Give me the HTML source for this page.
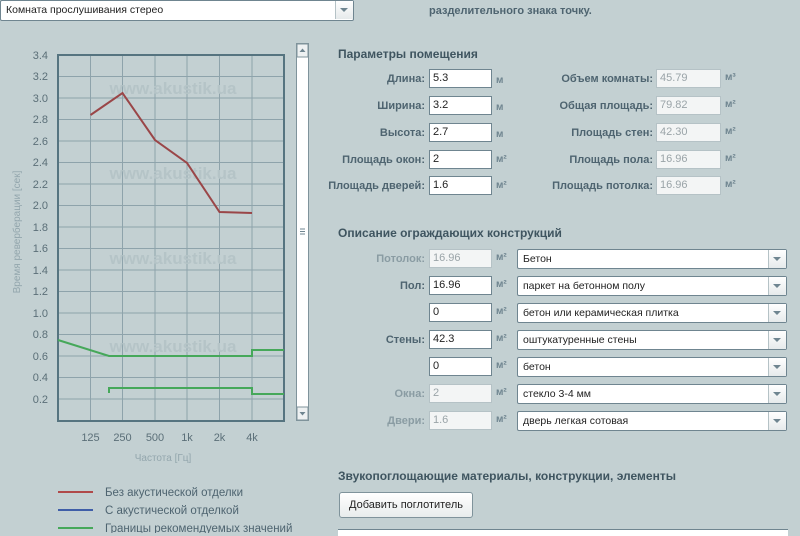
<!DOCTYPE html>
<html><head><meta charset="utf-8"><style>
body{margin:0;width:800px;height:533px;background:#c3d0d2;font-family:"Liberation Sans","DejaVu Sans",sans-serif;position:relative;overflow:hidden}
.a{position:absolute}
.lbl{position:absolute;font-size:11px;font-weight:bold;color:#4e6470;text-align:right}
.inp{position:absolute;height:19px;background:#fff;border:1px solid #6f8590;box-sizing:border-box;font-size:11px;line-height:17px;padding-left:3px;color:#222}
.dis{background:#f3f5f5;border-color:#b5c2c6;color:#9aa4a8}
.u{position:absolute;font-size:10px;font-weight:bold;color:#6f8590}
.sel{position:absolute;height:20px;background:#fff;border:1px solid #6f8590;border-radius:2px;box-sizing:border-box;font-size:10.5px;line-height:18px;padding-left:5px;color:#222}
.sel:after{content:"";position:absolute;right:0;top:0;width:17px;height:18px;border-left:1px solid #b5c2c6;background:linear-gradient(#fff,#e6eaeb)}
.sel i{position:absolute;right:5px;top:7px;border-left:4px solid transparent;border-right:4px solid transparent;border-top:4px solid #6f8590;z-index:2}
h3{position:absolute;margin:0;font-size:12px;color:#3f5560;font-weight:bold}
</style></head><body>
<div class="sel" style="left:0;top:0;width:354px;height:21px;line-height:19px">Комната прослушивания стерео<i></i></div>
<div class="a" style="left:429px;top:5px;font-size:11px;font-weight:bold;color:#4e6470">разделительного знака точку.</div>

<svg class="a" style="left:0;top:0" width="320" height="533" font-family="Liberation Sans, DejaVu Sans, sans-serif">
<g stroke="#8ea3ab" stroke-width="1">
<line x1="58" x2="284" y1="76.5" y2="76.5"/><line x1="58" x2="284" y1="98" y2="98"/><line x1="58" x2="284" y1="119.5" y2="119.5"/><line x1="58" x2="284" y1="141" y2="141"/><line x1="58" x2="284" y1="162.5" y2="162.5"/><line x1="58" x2="284" y1="184" y2="184"/><line x1="58" x2="284" y1="205.5" y2="205.5"/><line x1="58" x2="284" y1="227" y2="227"/><line x1="58" x2="284" y1="248.5" y2="248.5"/><line x1="58" x2="284" y1="270" y2="270"/><line x1="58" x2="284" y1="291.5" y2="291.5"/><line x1="58" x2="284" y1="313" y2="313"/><line x1="58" x2="284" y1="334.5" y2="334.5"/><line x1="58" x2="284" y1="356" y2="356"/><line x1="58" x2="284" y1="377.5" y2="377.5"/><line x1="58" x2="284" y1="399" y2="399"/>
<line x1="90.5" x2="90.5" y1="55" y2="421"/><line x1="122.5" x2="122.5" y1="55" y2="421"/><line x1="155" x2="155" y1="55" y2="421"/><line x1="187" x2="187" y1="55" y2="421"/><line x1="219.5" x2="219.5" y1="55" y2="421"/><line x1="252" x2="252" y1="55" y2="421"/>
</g>
<rect x="58" y="55" width="226" height="366" fill="none" stroke="#567480" stroke-width="2"/>
<g fill="#b5c4c7" font-size="17" font-weight="bold" text-anchor="middle"><text x="173" y="94">www.akustik.ua</text><text x="173" y="179">www.akustik.ua</text><text x="173" y="264">www.akustik.ua</text><text x="173" y="352">www.akustik.ua</text></g>
<g fill="#5b6f78" font-size="11" text-anchor="end">
<text x="48" y="59">3.4</text><text x="48" y="80">3.2</text><text x="48" y="102">3.0</text><text x="48" y="123">2.8</text><text x="48" y="145">2.6</text><text x="48" y="166">2.4</text><text x="48" y="188">2.2</text><text x="48" y="209">2.0</text><text x="48" y="231">1.8</text><text x="48" y="252">1.6</text><text x="48" y="274">1.4</text><text x="48" y="295">1.2</text><text x="48" y="317">1.0</text><text x="48" y="338">0.8</text><text x="48" y="360">0.6</text><text x="48" y="381">0.4</text><text x="48" y="403">0.2</text></g>
<g fill="#5b6f78" font-size="11" text-anchor="middle"><text x="90.5" y="441">125</text><text x="122.5" y="441">250</text><text x="155" y="441">500</text><text x="187" y="441">1k</text><text x="219.5" y="441">2k</text><text x="252" y="441">4k</text></g>
<text x="163" y="461" fill="#93a6ad" font-size="10" text-anchor="middle">Частота [Гц]</text>
<text transform="translate(20,232) rotate(-90)" fill="#93a6ad" font-size="10" text-anchor="middle">Время реверберации [сек]</text>
<polyline fill="none" stroke="#9a4648" stroke-width="2" points="90.5,115 122.5,93 155,140 187,163 219.5,212 252,213"/>
<polyline fill="none" stroke="#46a85a" stroke-width="2" points="58,340 109,356 252,356 252,350 284,350"/>
<polyline fill="none" stroke="#46a85a" stroke-width="2" points="109,393 109,388 252,388 252,394 284,394"/>
<rect x="296.5" y="43.5" width="12" height="377" fill="#fff" stroke="#7f939b"/>
<rect x="297" y="44" width="11" height="13" fill="#eef1f2" stroke="#7f939b"/>
<path d="M299.5 52 L302.5 48.5 L305.5 52Z" fill="#6f8590"/>
<rect x="297" y="407" width="11" height="13" fill="#eef1f2" stroke="#7f939b"/>
<path d="M299.5 412 L302.5 415.5 L305.5 412Z" fill="#6f8590"/>
<path d="M300 229h5M300 231.5h5M300 234h5" stroke="#6f8590"/>
<line x1="58" x2="93" y1="492" y2="492" stroke="#b04a4a" stroke-width="2"/>
<line x1="58" x2="93" y1="510" y2="510" stroke="#3f5ea8" stroke-width="2"/>
<line x1="58" x2="93" y1="528" y2="528" stroke="#46a85a" stroke-width="2"/>
<g fill="#4e6470" font-size="11.5"><text x="105" y="496">Без акустической отделки</text><text x="105" y="514">С акустической отделкой</text><text x="105" y="532">Границы рекомендуемых значений</text></g>
</svg>

<h3 style="left:338px;top:47px">Параметры помещения</h3>
<div class="lbl" style="left:300px;width:125px;top:73px">Длина:</div><div class="inp" style="left:429px;top:69px;width:63px">5.3</div><div class="u" style="left:496px;top:75px">м</div>
<div class="lbl" style="left:300px;width:125px;top:100px">Ширина:</div><div class="inp" style="left:429px;top:96px;width:63px">3.2</div><div class="u" style="left:496px;top:102px">м</div>
<div class="lbl" style="left:300px;width:125px;top:127px">Высота:</div><div class="inp" style="left:429px;top:123px;width:63px">2.7</div><div class="u" style="left:496px;top:129px">м</div>
<div class="lbl" style="left:300px;width:125px;top:154px">Площадь окон:</div><div class="inp" style="left:429px;top:150px;width:63px">2</div><div class="u" style="left:496px;top:154px">м²</div>
<div class="lbl" style="left:300px;width:125px;top:180px">Площадь дверей:</div><div class="inp" style="left:429px;top:176px;width:63px">1.6</div><div class="u" style="left:496px;top:180px">м²</div>

<div class="lbl" style="left:500px;width:153px;top:73px">Объем комнаты:</div><div class="inp dis" style="left:656px;top:69px;width:65px">45.79</div><div class="u" style="left:725px;top:72px">м³</div>
<div class="lbl" style="left:500px;width:153px;top:100px">Общая площадь:</div><div class="inp dis" style="left:656px;top:96px;width:65px">79.82</div><div class="u" style="left:725px;top:99px">м²</div>
<div class="lbl" style="left:500px;width:153px;top:127px">Площадь стен:</div><div class="inp dis" style="left:656px;top:123px;width:65px">42.30</div><div class="u" style="left:725px;top:126px">м²</div>
<div class="lbl" style="left:500px;width:153px;top:154px">Площадь пола:</div><div class="inp dis" style="left:656px;top:150px;width:65px">16.96</div><div class="u" style="left:725px;top:153px">м²</div>
<div class="lbl" style="left:500px;width:153px;top:180px">Площадь потолка:</div><div class="inp dis" style="left:656px;top:176px;width:65px">16.96</div><div class="u" style="left:725px;top:179px">м²</div>

<h3 style="left:338px;top:226px">Описание ограждающих конструкций</h3>
<div class="lbl" style="left:300px;width:125px;top:253px;color:#8a9ca3">Потолок:</div><div class="inp dis" style="left:429px;top:249px;width:63px">16.96</div><div class="u" style="left:496px;top:252px">м²</div><div class="sel" style="left:517px;top:249px;width:270px">Бетон<i></i></div>
<div class="lbl" style="left:300px;width:125px;top:280px">Пол:</div><div class="inp" style="left:429px;top:276px;width:63px">16.96</div><div class="u" style="left:496px;top:279px">м²</div><div class="sel" style="left:517px;top:276px;width:270px">паркет на бетонном полу<i></i></div>
<div class="inp" style="left:429px;top:303px;width:63px">0</div><div class="u" style="left:496px;top:306px">м²</div><div class="sel" style="left:517px;top:303px;width:270px">бетон или керамическая плитка<i></i></div>
<div class="lbl" style="left:300px;width:125px;top:334px">Стены:</div><div class="inp" style="left:429px;top:330px;width:63px">42.3</div><div class="u" style="left:496px;top:333px">м²</div><div class="sel" style="left:517px;top:330px;width:270px">оштукатуренные стены<i></i></div>
<div class="inp" style="left:429px;top:357px;width:63px">0</div><div class="u" style="left:496px;top:360px">м²</div><div class="sel" style="left:517px;top:357px;width:270px">бетон<i></i></div>
<div class="lbl" style="left:300px;width:125px;top:388px;color:#8a9ca3">Окна:</div><div class="inp dis" style="left:429px;top:384px;width:63px">2</div><div class="u" style="left:496px;top:387px">м²</div><div class="sel" style="left:517px;top:384px;width:270px">стекло 3-4 мм<i></i></div>
<div class="lbl" style="left:300px;width:125px;top:415px;color:#8a9ca3">Двери:</div><div class="inp dis" style="left:429px;top:411px;width:63px">1.6</div><div class="u" style="left:496px;top:414px">м²</div><div class="sel" style="left:517px;top:411px;width:270px">дверь легкая сотовая<i></i></div>

<h3 style="left:338px;top:469px">Звукопоглощающие материалы, конструкции, элементы</h3>
<div class="a" style="left:339px;top:492px;width:134px;height:26px;box-sizing:border-box;border:1px solid #7f939b;border-radius:3px;background:linear-gradient(#fff,#e8ecec);font-size:11px;line-height:24px;text-align:center;color:#222">Добавить поглотитель</div>
<div class="a" style="left:338px;top:529px;width:450px;height:6px;border-top:1px solid #6f8590;background:#fff"></div>
</body></html>
